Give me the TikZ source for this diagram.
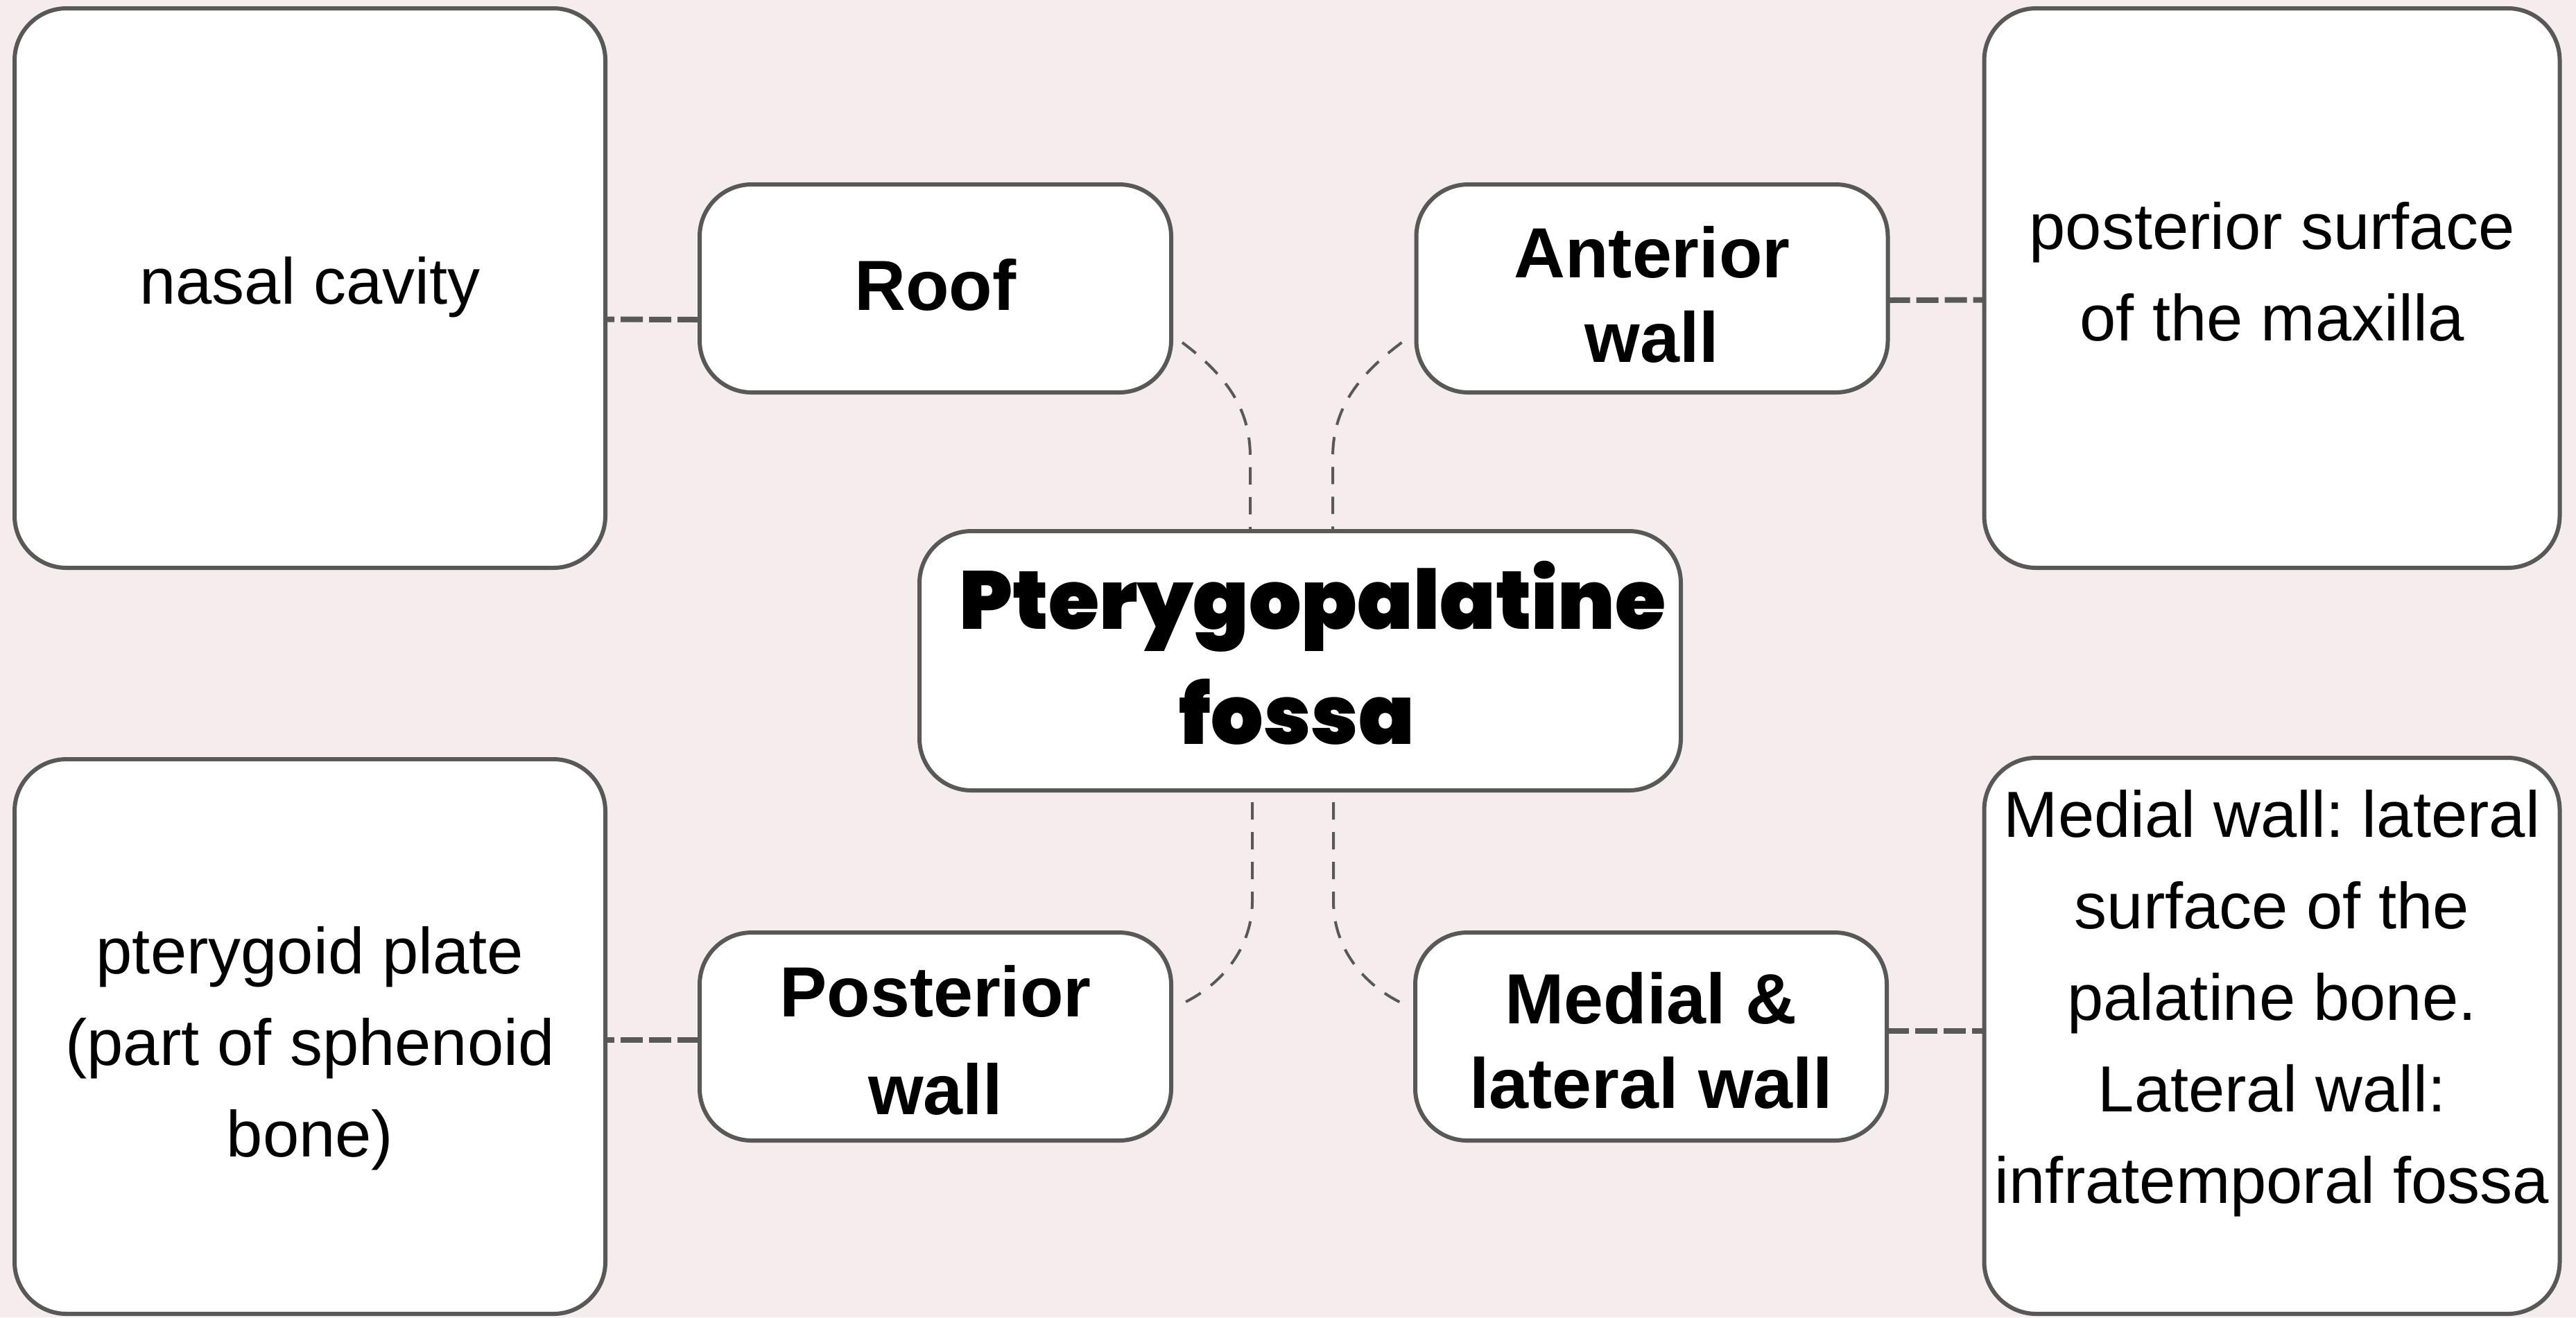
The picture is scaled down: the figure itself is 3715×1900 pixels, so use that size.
\documentclass[tikz,border=0pt]{standalone}
\usepackage{fontspec}
\setmainfont{Liberation Sans}
\newfontfamily\popfont{Poppins Black}
\usetikzlibrary{calc}
\definecolor{bgpink}{RGB}{245,236,237}
\definecolor{edgegray}{RGB}{88,88,88}
\begin{document}
\frenchspacing
\begin{tikzpicture}[x=0.25pt,y=-0.25pt,
  boxbase/.style={draw=edgegray, line width=1.5pt, fill=white, rounded corners=18.75pt, inner sep=0pt, outer sep=0pt},
  leftbig/.style={boxbase, minimum width=213pt, minimum height=201.75pt},
  rightbig/.style={boxbase, minimum width=207.5pt, minimum height=201.75pt},
  smallbox/.style={boxbase, minimum width=170pt, minimum height=75pt},
  mainbox/.style={boxbase, minimum width=274.5pt, minimum height=93.5pt},
  labeltext/.style={font=\fontsize{25.6pt}{30.5pt}\selectfont\bfseries, align=center, inner sep=0pt},
  maintext/.style={font=\popfont\fontsize{29.65pt}{41.5pt}\selectfont, align=center, inner sep=0pt},
  detailtext/.style={font=\fontsize{23.5pt}{33pt}\selectfont, align=center, inner sep=0pt},
  thickdash/.style={draw=edgegray, line width=2pt, dash pattern=on 8pt off 2.25pt},
  thindash/.style={draw=edgegray, line width=1pt, dash pattern=on 6.25pt off 4.5pt},
]
\useasboundingbox (0,0) rectangle (3715,1900);
\fill[bgpink] (0,0) rectangle (3715,1900);

% boxes
\node[leftbig] (nasal) at (447,415.5) {};
\node[smallbox] (roof) at (1349,416) {};
\node[smallbox] (anterior) at (2382.5,416) {};
\node[rightbig] (maxilla) at (3276.5,415.5) {};
\node[mainbox] (fossa) at (1875,953) {};
\node[leftbig, minimum height=200pt] (pterygoid) at (447,1495) {};
\node[smallbox] (posterior) at (1349,1495) {};
\node[smallbox] (medial) at (2381,1495) {};
\node[rightbig, minimum height=200.5pt] (medtext) at (3276.5,1494) {};

% texts
\node[labeltext] (rooft) at (1349,410.5) {Roof};
\node[labeltext] (anteriort) at (2382.5,424.5) {Anterior\\wall};
\node[labeltext, font=\fontsize{25.6pt}{35.25pt}\selectfont\bfseries] (posteriort) at (1349,1500) {Posterior\\wall};
\node[labeltext] (medialt) at (2381,1500.5) {Medial \&\\lateral wall};
\node[maintext] (fossat) at (1870.5,942) {\hspace*{11.25pt}Pterygopalatine\\fossa};
\node[detailtext] (nasalt) at (447,414) {nasal cavity};
\node[detailtext] (maxillat) at (3276.5,392) {posterior surface\\of the maxilla};
\node[detailtext] (pterygoidt) at (447,1512) {pterygoid plate\\(part of sphenoid\\bone)};
\node[detailtext] (medtextt) at (3276.5,1447) {Medial wall: lateral\\surface of the\\palatine bone.\\Lateral wall:\\infratemporal fossa};

% straight dashed connectors
\draw[thickdash] ([shift={(0,45)}]roof.west) -- ([shift={(0,45)}]nasal.east);
\draw[thickdash] ([shift={(0,17)}]anterior.east) -- ([shift={(0,17)}]maxilla.west);
\draw[thickdash] ([shift={(0,5)}]posterior.west) -- ([shift={(0,5)}]pterygoid.west -| pterygoid.east);
\draw[thickdash] ([shift={(0,-8)}]medial.east) -- ([shift={(0,-8)}]medial.east -| medtext.west);

% curved dashed connectors
\draw[thindash] ([shift={(16,78)}]roof.east) .. controls +(75,56) and +(0,-60) .. ([shift={(-72,-106)}]fossa.north) -- ([shift={(-72,0)}]fossa.north);
\draw[thindash] ([shift={(-21,78)}]anterior.west) .. controls +(-75,56) and +(0,-60) .. ([shift={(47,-106)}]fossa.north) -- ([shift={(47,0)}]fossa.north);
\draw[thindash] ([shift={(-69,17)}]fossa.south) -- ([shift={(-69,160)}]fossa.south) .. controls +(0,60) and +(62,-31) .. ([shift={(19,-49)}]posterior.east);
\draw[thindash] ([shift={(48,17)}]fossa.south) -- ([shift={(48,160)}]fossa.south) .. controls +(0,60) and +(-62,-31) .. ([shift={(-21,-49)}]medial.west);
\end{tikzpicture}
\end{document}
